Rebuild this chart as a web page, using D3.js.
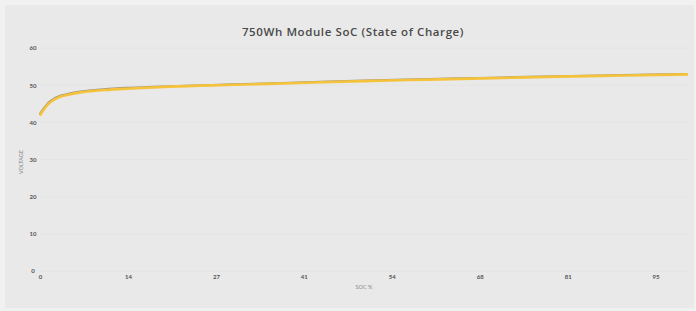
<!DOCTYPE html>
<html><head><meta charset="utf-8">
<script src="https://cdn.jsdelivr.net/npm/d3@7"></script>
<style>html,body{margin:0;padding:0;background:#f1f1f1;}svg{display:block;}</style>
</head><body>
<svg id="c" width="696" height="311"></svg>
<script>
const title = "750Wh Module SoC (State of Charge)";
const socValues = [0, 0.3, 0.7, 1.2, 2, 3, 4, 6, 8, 10, 14, 20, 30, 40, 50, 60, 70, 80, 90, 100];
const voltageA = [41.8, 42.7, 43.7, 44.8, 45.9, 46.8, 47.3, 48.0, 48.4, 48.7, 49.1, 49.6, 50.1, 50.6, 51.1, 51.5, 51.9, 52.3, 52.6, 52.9];
const voltageB = [42.0, 42.9, 43.9, 45.0, 46.1, 47.0, 47.5, 48.2, 48.6, 48.9, 49.3, 49.7, 50.2, 50.7, 51.2, 51.6, 52.0, 52.4, 52.7, 53.0];
const yTicks = [0, 10, 20, 30, 40, 50, 60];
const xTicks = [0, 95/7, 190/7, 285/7, 380/7, 475/7, 570/7, 95];
const xLabel = "SOC %";
const yLabel = "VOLTAGE";

const svg = d3.select("#c");
svg.append("rect").attr("x",5).attr("y",5).attr("width",689).attr("height",303).attr("fill","#e9e9e9");

const x = d3.scaleLinear().domain([0,100]).range([40,688]);
const y = d3.scaleLinear().domain([0,60]).range([271,48]);

svg.append("g").selectAll("line").data(yTicks).join("line")
  .attr("x1",40).attr("x2",688).attr("y1",d=>y(d)).attr("y2",d=>y(d))
  .attr("stroke","#e4e4e4").attr("stroke-width",1);

const ya = svg.append("g").attr("transform","translate(36,0)")
  .call(d3.axisLeft(y).tickValues(yTicks).tickSize(0).tickPadding(0));
ya.select(".domain").remove();
ya.selectAll("text").attr("font-family","Lato, 'DejaVu Sans', sans-serif").attr("font-size",6)
  .attr("font-weight","bold").attr("fill","#555").attr("text-anchor","middle").attr("dx",-3);

const xa = svg.append("g").attr("transform","translate(0,275)")
  .call(d3.axisBottom(x).tickValues(xTicks).tickFormat(d3.format(".0f")).tickSize(0).tickPadding(0));
xa.select(".domain").remove();
xa.selectAll("text").attr("font-family","Lato, 'DejaVu Sans', sans-serif").attr("font-size",6)
  .attr("font-weight","bold").attr("fill","#555");

svg.append("text").attr("x",364).attr("y",289).attr("text-anchor","middle")
  .attr("font-family","Lato, 'DejaVu Sans', sans-serif").attr("font-size",5.5).attr("fill","#888").text(xLabel);
svg.append("text").attr("transform","translate(23,162) rotate(-90)").attr("text-anchor","middle")
  .attr("font-family","Lato, 'DejaVu Sans', sans-serif").attr("font-size",5.5).attr("fill","#888").text(yLabel);

svg.append("text").attr("x",353).attr("y",36).attr("text-anchor","middle")
  .attr("font-family","'Open Sans', 'DejaVu Sans', sans-serif").attr("font-size",11.5).attr("font-weight",600)
  .attr("letter-spacing",0.6).attr("fill","#4a4a4a").text(title);

const line = d3.line().curve(d3.curveMonotoneX);
const ptsA = socValues.map((s,i)=>[x(s), y(voltageA[i])]);
const ptsB = socValues.map((s,i)=>[x(s), y(voltageB[i])]);
svg.append("path").attr("d", line(ptsB)).attr("fill","none").attr("stroke","#9a9385").attr("stroke-width",1.6).attr("transform","translate(-0.5,-0.3)");
svg.append("path").attr("d", line(ptsA)).attr("fill","none").attr("stroke","#f5c33b").attr("stroke-width",2.6);
</script>
</body></html>
